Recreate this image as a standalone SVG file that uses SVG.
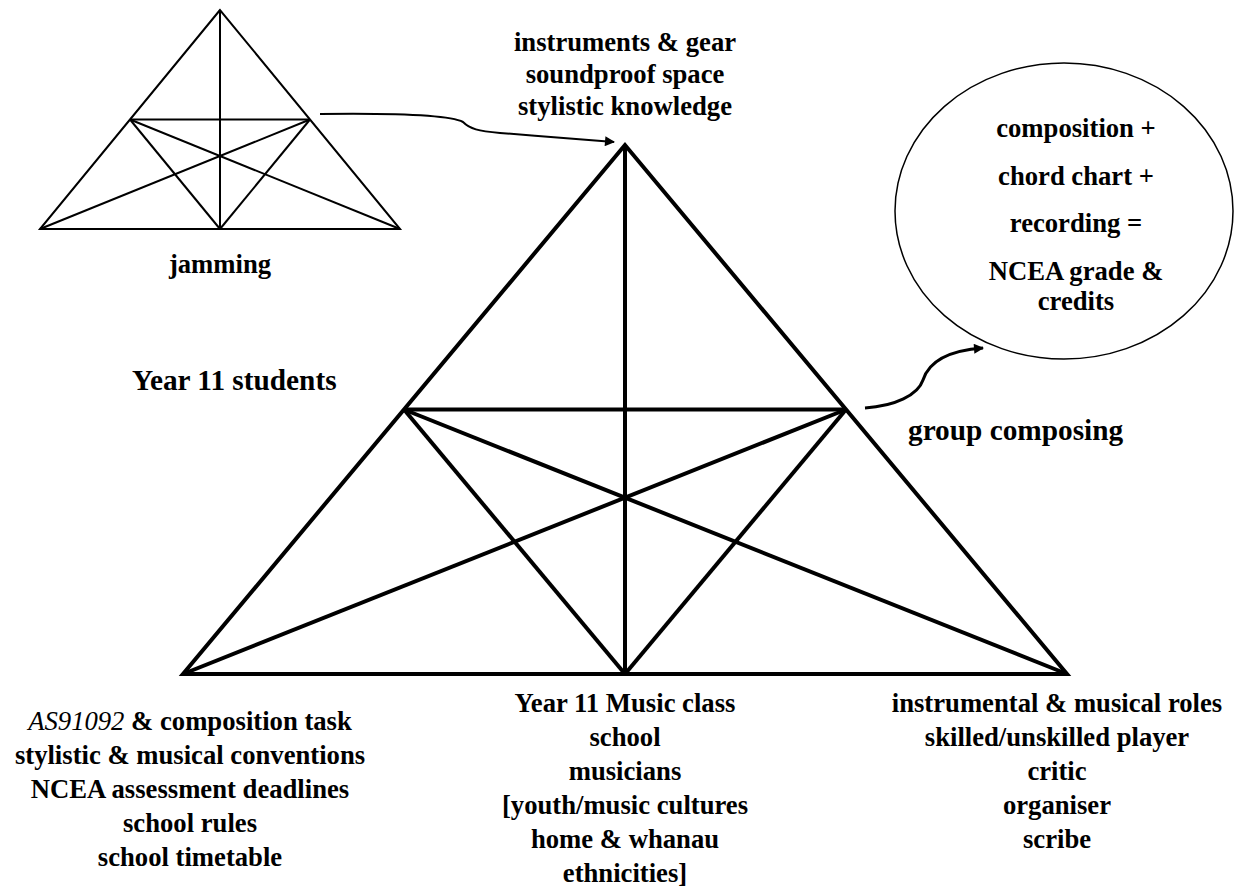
<svg xmlns="http://www.w3.org/2000/svg" width="1237" height="892" viewBox="0 0 1237 892">
  <defs>
    <marker id="head" viewBox="0 0 10 10" refX="9" refY="5" markerWidth="14" markerHeight="10" markerUnits="userSpaceOnUse" orient="auto">
      <path d="M0,0 L10,5 L0,10 z" fill="#000"/>
    </marker>
  </defs>
  <style>
    text { font-family: "Liberation Serif", "Times New Roman", serif; font-weight: bold; font-size: 26.67px; fill: #000; text-anchor: middle; }
    .big { font-size: 29.3px; }
    .start { text-anchor: start; }
    .ital { font-style: italic; font-weight: normal; }
    .thin { stroke: #000; stroke-width: 2; fill: none; }
    .thick { stroke: #000; stroke-width: 4; fill: none; }
    .conn { stroke: #000; fill: none; }
  </style>
  <rect width="1237" height="892" fill="#fff"/>

  <!-- small activity triangle -->
  <g id="jamming">
    <polygon class="thin" points="220,10 40,229 400,229"/>
    <line class="thin" x1="220" y1="10" x2="220" y2="229"/>
    <line class="thin" x1="130" y1="119.5" x2="310" y2="119.5"/>
    <line class="thin" x1="130" y1="119.5" x2="220" y2="229"/>
    <line class="thin" x1="310" y1="119.5" x2="220" y2="229"/>
    <line class="thin" x1="130" y1="119.5" x2="400" y2="229"/>
    <line class="thin" x1="310" y1="119.5" x2="40" y2="229"/>
    <text x="220" y="273">jamming</text>
  </g>

  <!-- main activity triangle -->
  <g id="main-triangle">
    <polygon class="thick" points="625,145 183,674 1067,674"/>
    <line class="thick" x1="625" y1="145" x2="625" y2="674"/>
    <line class="thick" x1="404" y1="409.5" x2="846" y2="409.5"/>
    <line class="thick" x1="404" y1="409.5" x2="625" y2="674"/>
    <line class="thick" x1="846" y1="409.5" x2="625" y2="674"/>
    <line class="thick" x1="404" y1="409.5" x2="1067" y2="674"/>
    <line class="thick" x1="846" y1="409.5" x2="183" y2="674"/>
  </g>

  <!-- tools (apex) -->
  <g id="tools">
    <text x="625" y="51">instruments &amp; gear</text>
    <text x="625" y="83">soundproof space</text>
    <text x="625" y="115">stylistic knowledge</text>
  </g>

  <!-- subject -->
  <g id="subject">
    <text class="big start" x="132" y="390">Year 11 students</text>
  </g>

  <!-- activity label -->
  <g id="activity">
    <text class="big start" x="908" y="440">group composing</text>
  </g>

  <!-- outcome -->
  <g id="outcome">
    <ellipse cx="1064" cy="211" rx="169" ry="148" fill="none" stroke="#000" stroke-width="1.5"/>
    <text x="1076" y="137">composition +</text>
    <text x="1076" y="185">chord chart +</text>
    <text x="1076" y="232">recording =</text>
    <text x="1076" y="280">NCEA grade &amp;</text>
    <text x="1076" y="310">credits</text>
  </g>

  <!-- rules -->
  <g id="rules">
    <text x="190" y="730"><tspan class="ital">AS91092</tspan> &amp; composition task</text>
    <text x="190" y="764">stylistic &amp; musical conventions</text>
    <text x="190" y="798">NCEA assessment deadlines</text>
    <text x="190" y="832">school rules</text>
    <text x="190" y="866">school timetable</text>
  </g>

  <!-- community -->
  <g id="community">
    <text x="625" y="712">Year 11 Music class</text>
    <text x="625" y="746">school</text>
    <text x="625" y="780">musicians</text>
    <text x="625" y="814">[youth/music cultures</text>
    <text x="625" y="848">home &amp; whanau</text>
    <text x="625" y="882">ethnicities]</text>
  </g>

  <!-- division of labour -->
  <g id="division-of-labour">
    <text x="1057" y="712">instrumental &amp; musical roles</text>
    <text x="1057" y="746">skilled/unskilled player</text>
    <text x="1057" y="780">critic</text>
    <text x="1057" y="814">organiser</text>
    <text x="1057" y="848">scribe</text>
  </g>

  <!-- connectors -->
  <g id="connectors">
    <path class="conn" stroke-width="2" marker-end="url(#head)" d="M320,114 C400,113 450,115 463,122 C470,129 478,131 500,133 C540,136 590,140 614,142"/>
    <path class="conn" stroke-width="3" marker-end="url(#head)" d="M865,408 C895,406 918,395 923,380 C930,358 955,350 983,348"/>
  </g>
</svg>
